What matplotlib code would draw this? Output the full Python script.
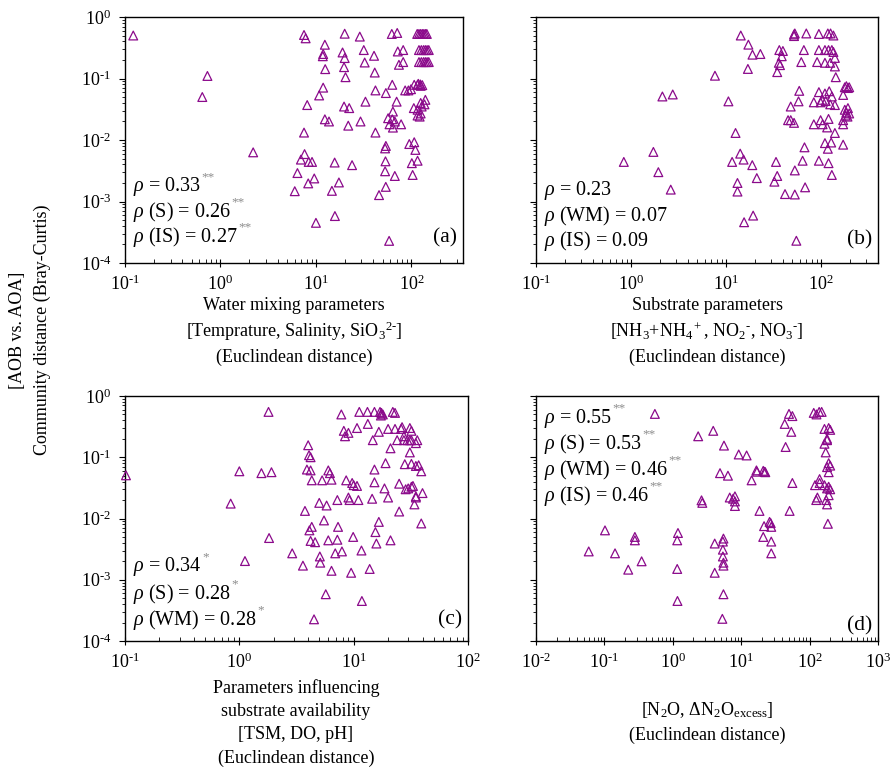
import numpy as np
import matplotlib
matplotlib.use("Agg")
import matplotlib.pyplot as plt
from matplotlib.ticker import LogLocator, NullFormatter, FixedLocator, FixedFormatter

plt.rcParams['font.family'] = ['Liberation Serif', 'DejaVu Serif']
plt.rcParams['mathtext.fontset'] = 'custom'
plt.rcParams['mathtext.rm'] = 'Liberation Serif'
plt.rcParams['mathtext.it'] = 'Liberation Serif:italic'
plt.rcParams['mathtext.bf'] = 'Liberation Serif:bold'

# ---- data ----
# (a) water mixing parameters
xa = [0.122, 0.73, 0.645, 2.2, 7.5, 7.8, 12.4, 11.9, 11.8, 12.5, 11.9, 10.8, 8.1, 12.4, 13.7,
      7.5, 7.6, 6.96, 8.4, 9.1, 6.4, 9.6, 8.3, 6.0, 10.0, 20, 28.8, 19.0, 20, 19.7, 20.4, 31.7,
      32.4, 40.6, 41.3, 42, 33, 19.7, 22.3, 29.3, 21.8, 42, 15.7, 23.9, 17.4, 14.7, 15.8, 45.8,
      53.9, 58.4, 62.3, 71, 63, 54, 70, 64, 57, 63, 67, 59, 64, 78, 54, 53, 53.5, 53, 67, 72,
      82, 74, 82, 86, 93, 99, 107, 116, 125, 106, 116, 125, 137, 116, 125, 95, 107, 110, 101,
      116, 103, 115, 120, 125, 130, 135, 140, 145, 120, 127, 134, 140, 146, 152, 120, 127, 134,
      140, 146, 152, 118, 124, 130, 140, 128, 122]
ya = [0.50, 0.11, 0.050, 0.0063, 0.51, 0.45, 0.354, 0.25, 0.23, 0.142, 0.071, 0.053, 0.037,
      0.0217, 0.020, 0.0132, 0.0059, 0.0048, 0.0044, 0.0044, 0.0029, 0.00237, 0.00197, 0.00147,
      0.00045, 0.535, 0.48, 0.265, 0.215, 0.153, 0.105, 0.29, 0.182, 0.234, 0.125, 0.064, 0.042,
      0.035, 0.033, 0.020, 0.0171, 0.0132, 0.0043, 0.0039, 0.00204, 0.00149, 0.00058, 0.00127,
      0.00173, 0.000229, 0.53, 0.55, 0.079, 0.058, 0.042, 0.029, 0.0226, 0.0217, 0.020, 0.018,
      0.0159, 0.018, 0.008, 0.0073, 0.0045, 0.0031, 0.0026, 0.275, 0.29, 0.167, 0.185, 0.064,
      0.064, 0.067, 0.079, 0.079, 0.076, 0.033, 0.031, 0.040, 0.038, 0.025, 0.027, 0.0086,
      0.0092, 0.0069, 0.0042, 0.0046, 0.0027, 0.53, 0.53, 0.53, 0.53, 0.53, 0.53, 0.53, 0.29,
      0.29, 0.29, 0.29, 0.29, 0.29, 0.185, 0.185, 0.185, 0.185, 0.185, 0.185, 0.082, 0.08,
      0.078, 0.045, 0.035, 0.024]

# (b) substrate parameters
xb = [0.84, 1.72, 1.94, 2.14, 2.75, 2.62, 7.65, 10.6, 14.3, 17.2, 19, 23, 17, 12.6, 14.1, 15.3,
      11.6, 18.9, 21.1, 13.2, 13.2, 15.5, 19.3, 33.6, 34.6, 32.3, 41.8, 53, 53, 68, 55, 52, 53,
      70, 95, 118, 126, 135, 52, 36.4, 39.7, 38.6, 36, 37, 34.6, 66, 62, 95, 91, 110, 120, 130,
      135, 140, 110, 125, 140, 143, 59, 58, 48, 45, 48, 52, 84, 95, 99, 103, 112, 110, 122, 130,
      125, 140, 84, 99, 104, 120, 116, 140, 171, 171, 171, 171, 178, 185, 192, 198, 178, 185,
      192, 198, 182, 190, 67, 64, 95, 110, 118, 120, 130, 128]
yb = [0.0044, 0.0064, 0.0030, 0.051, 0.055, 0.00156, 0.111, 0.0425, 0.50, 0.355, 0.244, 0.25,
      0.143, 0.013, 0.006, 0.0048, 0.0044, 0.0039, 0.0024, 0.002, 0.00145, 0.00046, 0.00059,
      0.0044, 0.0026, 0.0021, 0.00132, 0.0032, 0.0013, 0.0017, 0.00023, 0.52, 0.54, 0.54, 0.53,
      0.54, 0.54, 0.50, 0.49, 0.29, 0.28, 0.23, 0.18, 0.165, 0.127, 0.29, 0.185, 0.29, 0.185,
      0.29, 0.29, 0.29, 0.27, 0.216, 0.18, 0.18, 0.157, 0.105, 0.063, 0.0425, 0.035, 0.021,
      0.021, 0.019, 0.041, 0.06, 0.041, 0.045, 0.043, 0.057, 0.062, 0.051, 0.038, 0.037, 0.018,
      0.021, 0.018, 0.022, 0.016, 0.013, 0.054, 0.018, 0.0084, 0.021, 0.072, 0.075, 0.07, 0.072,
      0.031, 0.028, 0.033, 0.027, 0.025, 0.024, 0.0076, 0.0046, 0.0046, 0.0089, 0.0072, 0.0042,
      0.0027, 0.0091]

# (c) parameters influencing substrate availability
xc = [0.102, 0.84, 1.0, 1.12, 1.56, 1.91, 1.8, 1.82, 2.9, 3.6, 3.75, 4.0, 4.07, 4.2, 3.9, 4.2,
      4.3, 4.1, 4.3, 4.2, 4.6, 5.06, 5.1, 4.5, 5.0, 5.3, 5.5, 5.8, 6.0, 5.7, 6.0, 6.2, 6.4, 6.4,
      6.9, 7.2, 7.3, 7.2, 7.9, 7.8, 8.2, 8.4, 9.0, 8.6, 9.0, 9.2, 9.5, 9.9, 9.7, 10, 10.7, 10.7,
      11.2, 11, 11.7, 11.8, 13.2, 13.3, 13.8, 14.5, 14.7, 15.2, 15.2, 15.5, 15.8, 16.6, 16.6,
      15.2, 17, 17.5, 18, 17.3, 18.6, 19, 20, 20, 21, 21, 22, 23, 23, 24, 25, 25, 26, 26.5, 27.5,
      27.5, 28, 28.5, 29.5, 30, 31, 31, 32, 31, 32, 32, 32, 33, 34, 35, 35, 35, 36, 35, 37, 39,
      40, 39]
yc = [0.0507, 0.0175, 0.059, 0.00202, 0.055, 0.057, 0.55, 0.0048, 0.0027, 0.0017, 0.0133,
      0.157, 0.108, 0.1, 0.063, 0.061, 0.042, 0.0064, 0.0073, 0.0043, 0.0041, 0.0024, 0.0019,
      0.000226, 0.018, 0.042, 0.0093, 0.0163, 0.0044, 0.00058, 0.061, 0.055, 0.043, 0.0014,
      0.0027, 0.02, 0.0073, 0.0045, 0.0029, 0.5, 0.27, 0.22, 0.25, 0.042, 0.022, 0.020, 0.0013,
      0.005, 0.038, 0.035, 0.034, 0.30, 0.55, 0.02, 0.003, 0.00045, 0.55, 0.35, 0.0015, 0.021,
      0.19, 0.063, 0.039, 0.006, 0.0039, 0.0088, 0.26, 0.55, 0.55, 0.53, 0.50, 0.48, 0.031,
      0.08, 0.022, 0.29, 0.14, 0.0044, 0.55, 0.53, 0.29, 0.19, 0.013, 0.037, 0.29, 0.31, 0.22,
      0.19, 0.077, 0.03, 0.19, 0.031, 0.12, 0.3, 0.27, 0.19, 0.19, 0.078, 0.033, 0.034, 0.017,
      0.023, 0.022, 0.17, 0.19, 0.072, 0.074, 0.059, 0.026, 0.0083]

# (d) N2O parameters
xd = [0.059, 0.102, 0.143, 0.223, 0.279, 0.279, 0.35, 0.547, 1.17, 1.16, 1.19, 1.16, 2.35, 2.63,
      2.7, 3.9, 4.1, 4.1, 4.9, 5.5, 5.4, 5.4, 5.4, 5.5, 5.5, 5.5, 5.3, 5.6, 6.4, 6.8, 7.6, 8.1,
      8.1, 8.1, 9.2, 12, 14.2, 16.7, 17, 21, 22, 22.5, 18.5, 21, 21.6, 26, 27, 27.5, 27.5, 27.5,
      43.3, 44.6, 50, 54, 56, 56, 51, 115, 126, 138, 150, 120, 125, 130, 140, 140, 165, 165,
      172, 180, 180, 190, 200, 180, 190, 200, 190, 165, 180, 190, 200, 190, 175, 180, 185]
yd = [0.0029, 0.0064, 0.0027, 0.00146, 0.005, 0.0044, 0.002, 0.51, 0.00045, 0.0015, 0.0058,
      0.0044, 0.22, 0.0198, 0.018, 0.27, 0.0039, 0.0013, 0.055, 0.0047, 0.0042, 0.0031, 0.0024,
      0.0019, 0.0017, 0.00058, 0.00023, 0.155, 0.05, 0.022, 0.021, 0.023, 0.019, 0.016, 0.111,
      0.107, 0.042, 0.061, 0.058, 0.06, 0.058, 0.057, 0.0133, 0.005, 0.0075, 0.0088, 0.0084,
      0.0073, 0.0042, 0.0027, 0.35, 0.147, 0.51, 0.26, 0.47, 0.038, 0.0133, 0.53, 0.5, 0.55,
      0.55, 0.035, 0.02, 0.022, 0.044, 0.038, 0.29, 0.166, 0.12, 0.19, 0.2, 0.3, 0.28, 0.069,
      0.08, 0.073, 0.057, 0.035, 0.031, 0.033, 0.03, 0.024, 0.02, 0.017, 0.0082]

# correlation annotations: (main text, significance stars)
rho_a = [(r'$\rho$ = 0.33', '**'), (r'$\rho$ (S) = 0.26', '**'), (r'$\rho$ (IS) = 0.27', '**')]
rho_b = [(r'$\rho$ = 0.23', ''), (r'$\rho$ (WM) = 0.07', ''), (r'$\rho$ (IS) = 0.09', '')]
rho_c = [(r'$\rho$ = 0.34', '*'), (r'$\rho$ (S) = 0.28', '*'), (r'$\rho$ (WM) = 0.28', '*')]
rho_d = [(r'$\rho$ = 0.55', '**'), (r'$\rho$ (S) = 0.53', '**'),
         (r'$\rho$ (WM) = 0.46', '**'), (r'$\rho$ (IS) = 0.46', '**')]

xlabel_a = ['Water mixing parameters', r'[Temprature, Salinity, SiO$_3$$^{2\text{-}}$]',
            '(Euclindean distance)']
xlabel_b = ['Substrate parameters', r'[NH$_3$+NH$_4$$^+$, NO$_2$$^{\text{-}}$, NO$_3$$^{\text{-}}$]',
            '(Euclindean distance)']
xlabel_c = ['Parameters influencing', 'substrate availability', '[TSM, DO, pH]',
            '(Euclindean distance)']
xlabel_d = [r'[N$_2$O, $\Delta$N$_2$O$_{\mathrm{excess}}$]', '(Euclindean distance)']

W, H = 893, 769
fig = plt.figure(figsize=(W / 100, H / 100), dpi=100)


def px(x, y):
    return x / W, 1 - y / H


def make_axes(x0, y0, x1, y1):
    return fig.add_axes([x0 / W, 1 - y1 / H, (x1 - x0) / W, (y1 - y0) / H])


def sup_label(v):
    e = int(round(np.log10(v)))
    return r'$\mathregular{10^{%s}}$' % (str(e) if e >= 0 else r'\text{-}%d' % -e)


def style(ax, xlim, xt, show_y):
    ax.set_xscale('log')
    ax.set_yscale('log')
    ax.set_xlim(*xlim)
    ax.set_ylim(1e-4, 1)
    ax.xaxis.set_major_locator(FixedLocator(xt))
    ax.xaxis.set_major_formatter(FixedFormatter([sup_label(v) for v in xt]))
    ax.xaxis.set_minor_locator(LogLocator(base=10, subs=np.arange(2, 10), numticks=20))
    ax.xaxis.set_minor_formatter(NullFormatter())
    yt = [1e-4, 1e-3, 1e-2, 1e-1, 1]
    ax.yaxis.set_major_locator(FixedLocator(yt))
    ax.yaxis.set_minor_locator(LogLocator(base=10, subs=np.arange(2, 10), numticks=20))
    ax.yaxis.set_minor_formatter(NullFormatter())
    if show_y:
        ax.yaxis.set_major_formatter(FixedFormatter([sup_label(v) for v in yt]))
    else:
        ax.yaxis.set_major_formatter(NullFormatter())
    ax.tick_params(axis='x', which='major', direction='inout', length=6, width=0.8,
                   labelsize=13, pad=5)
    ax.tick_params(axis='x', which='minor', direction='in', length=3, width=0.6)
    ax.tick_params(axis='y', which='major', direction='out', length=4, width=0.8,
                   labelsize=13, pad=6)
    ax.tick_params(axis='y', which='minor', direction='out', length=2.5, width=0.6)
    for s in ax.spines.values():
        s.set_linewidth(1.0)


def rho_text(ax, items, x, y0, dy):
    for i, (main, stars) in enumerate(items):
        t = fig.text(*px(x, y0 + i * dy), main, fontsize=14.5, va='center', ha='left')
        if stars:
            ax.annotate(stars, xy=(1, 0.9), xycoords=t, fontsize=9.5, color='#8c8c8c',
                        va='center', ha='left', xytext=(0.5, 0), textcoords='offset points')


purple = '#8b0a8b'
panels = [
    (125, 17, 463, 263, xa, ya, (0.1, 347), [0.1, 1, 10, 100], True, rho_a, 187, 25, '(a)', 238),
    (536, 17, 878, 263, xb, yb, (0.1, 398), [0.1, 1, 10, 100], False, rho_b, 190, 25.5, '(b)', 240),
    (125, 396, 468, 641, xc, yc, (0.1, 100), [0.1, 1, 10, 100], True, rho_c, 567, 26.5, '(c)', 620),
    (536, 396, 878, 641, xd, yd, (0.01, 1000), [0.01, 0.1, 1, 10, 100, 1000], False, rho_d, 418,
     26, '(d)', 626),
]

axes = []
for (x0, y0, x1, y1, xs, ys, xlim, xt, show_y, rho, ry, rdy, tag, tagy) in panels:
    ax = make_axes(x0, y0, x1, y1)
    ax.scatter(xs, ys, marker='^', s=40, facecolors='none', edgecolors=purple,
               linewidths=0.9, zorder=3, clip_on=False)
    style(ax, xlim, xt, show_y)
    rho_text(ax, rho, x0 + 8, ry, rdy)
    fig.text(*px(x1 - 6, tagy), tag, fontsize=15.5, ha='right', va='center')
    axes.append(ax)

# x-axis labels as stacked lines
for lines, cx, y0, dy in [(xlabel_a, 294, 305, 26), (xlabel_b, 707, 305, 26),
                          (xlabel_c, 296, 688, 23.3), (xlabel_d, 707, 710, 25)]:
    for i, s in enumerate(lines):
        fig.text(*px(cx, y0 + i * dy), s, fontsize=13, ha='center', va='center')

# shared y-axis label
fig.text(*px(18, 330), '[AOB vs. AOA]', fontsize=13, rotation=90, ha='center', va='center')
fig.text(*px(42, 330), 'Community distance (Bray-Curtis)', fontsize=13, rotation=90,
         ha='center', va='center')

fig.savefig('out.png', dpi=100)
